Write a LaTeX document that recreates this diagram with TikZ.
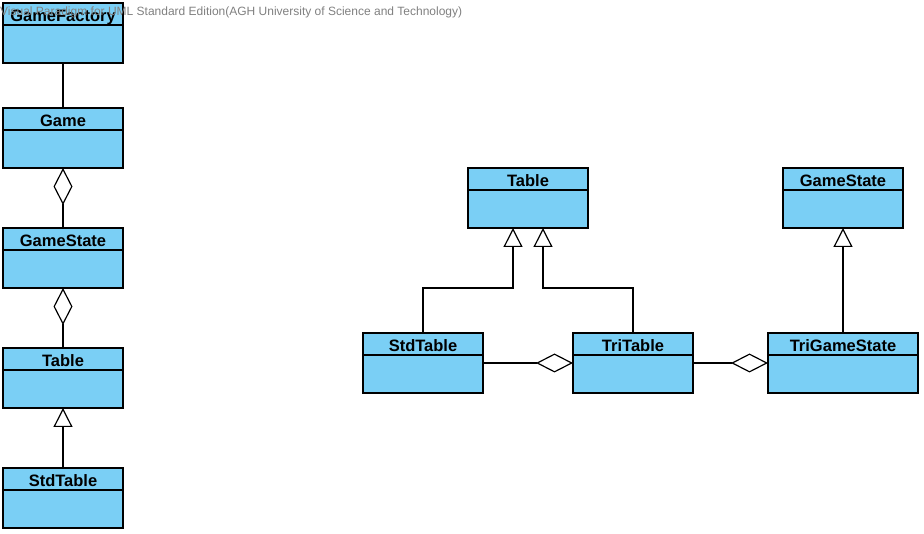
\documentclass[tikz,border=0pt]{standalone}
\usepackage{fontspec}
\setmainfont{Liberation Sans}
\usetikzlibrary{positioning, arrows.meta}
\definecolor{classfill}{RGB}{122,207,245}
\tikzset{
  classbox/.style={draw, line width=1.2pt, fill=classfill, inner sep=0pt, outer sep=0pt,
    minimum width=120pt, text height=18.5pt, text depth=41.5pt, align=center,
    font=\fontsize{16.5}{19}\selectfont\bfseries,
    path picture={\draw[line width=1.3pt]
      ([yshift=-22pt]path picture bounding box.north west) --
      ([yshift=-22pt]path picture bounding box.north east);}},
  assoc/.style={line width=1.2pt},
  aggr/.style={line width=1.2pt, {Diamond[open, length=37pt, width=19pt]}-},
  gen/.style={line width=1.2pt, -{Triangle[open, length=19pt, width=19pt]}}
}

\begin{document}
\begin{tikzpicture}[x=1pt, y=-1pt]
  \useasboundingbox (0,0) rectangle (924,534);
  % left column
  \node[classbox]                        (gfactory) at (63,33) {GameFactory};
  \node[classbox, below=45pt of gfactory] (game)    {Game};
  \node[classbox, below=60pt of game]     (lgstate) {GameState};
  \node[classbox, below=60pt of lgstate]  (ltable)  {Table};
  \node[classbox, below=60pt of ltable]   (lstd)    {StdTable};
  % right part
  \node[classbox]                        (rtable)  at (528,198) {Table};
  \node[classbox, right=195pt of rtable] (rgstate) {GameState};
  \node[classbox]                        (rstd)    at (423,363) {StdTable};
  \node[classbox, right=90pt of rstd]    (rtri)    {TriTable};
  \node[classbox, minimum width=150pt, right=75pt of rtri] (rtgs) {TriGameState};

  \draw[assoc] (gfactory) -- (game);
  \draw[aggr] (game) -- (lgstate);
  \draw[aggr] (lgstate) -- (ltable);
  \draw[gen] (lstd) -- (ltable);
  \draw[gen] (rstd.north) -- ++(0,-45) -| ([xshift=-15pt]rtable.south);
  \draw[gen] (rtri.north) -- ++(0,-45) -| ([xshift=15pt]rtable.south);
  \draw[aggr] (rtri) -- (rstd);
  \draw[aggr] (rtgs) -- (rtri);
  \draw[gen] (rtgs) -- (rgstate);

  \node[anchor=west, inner sep=0pt, text=gray, font=\fontsize{12}{14}\selectfont]
    (mark) at (0,12) {Visual Paradigm for UML Standard Edition(AGH University of Science and Technology)};
\end{tikzpicture}
\end{document}
